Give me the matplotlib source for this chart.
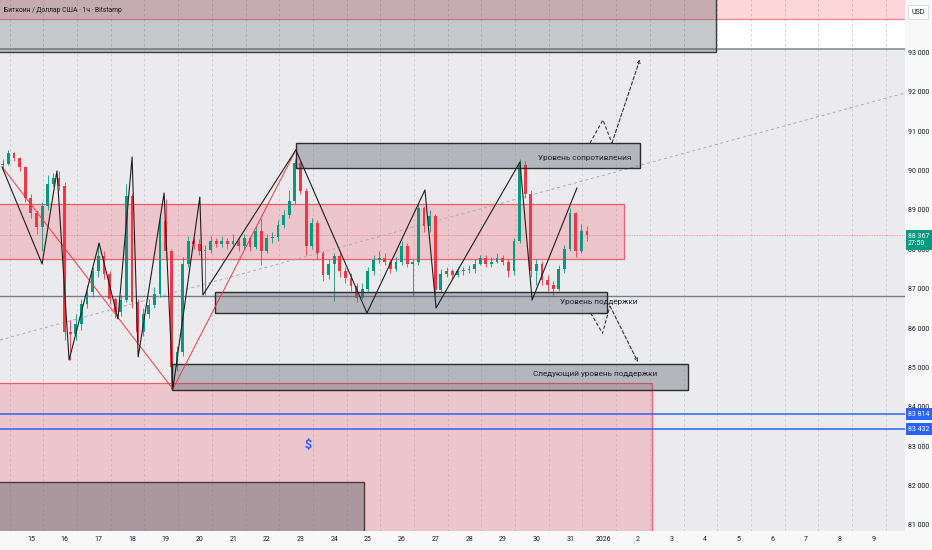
import matplotlib
matplotlib.use('Agg')
import matplotlib.pyplot as plt
import matplotlib.transforms as mtransforms
from matplotlib.patches import Rectangle

plt.rcParams['font.family'] = ['Roboto', 'DejaVu Sans']

# ---------------- data ----------------
title = 'Биткоин / Доллар США · 1ч · Bitstamp'
first_open = 90130
start_day = 14.08          # day coordinate of first 4h candle start (Dec)
bar_days = 1 / 6           # 4h candles

closes = [90180, 90440, 90310, 90080, 89310, 88920, 88560, 89100, 89670, 89820,
          89620, 85900, 85850, 86100, 86620, 86920, 87440, 87820, 87380, 86740,
          86410, 86720, 89360, 86670, 85900, 86360, 86590, 86870, 88720, 87950,
          85000, 85380, 87640, 88200, 88130, 87950, 87980, 88200, 88130, 88200,
          88130, 88200, 88080, 88280, 88050, 88460, 87950, 88280, 88310, 88620,
          88870, 89230, 90200, 89490, 88080, 88670, 87900, 87360, 87640, 87820,
          87440, 87280, 87080, 86770, 87000, 87440, 87740, 87790, 87690, 87510,
          87690, 88080, 87640, 87690, 89050, 88590, 88850, 86970, 87380, 87440,
          87360, 87440, 87470, 87490, 87640, 87770, 87620, 87690, 87770, 87690,
          87440, 88200, 90130, 89410, 87440, 87640, 87230, 87100, 87000, 87490,
          88000, 88920, 87950, 88460, 88367]
highs = [90300, 90520, 90480, 90350, 90120, 89400, 89000, 89200, 89900, 89950,
         90000, 89700, 86200, 86350, 86750, 87100, 87550, 88150, 87950, 87450,
         86800, 86850, 89650, 89400, 86750, 86500, 86750, 87050, 88900, 89280,
         88000, 85550, 87800, 88350, 88300, 88250, 88100, 88350, 88300, 88350,
         88300, 88400, 88300, 88400, 88350, 88600, 88800, 88400, 88450, 88750,
         89000, 89500, 90300, 90300, 89550, 88800, 88750, 87950, 87750, 87900,
         87900, 87550, 87400, 87150, 87150, 87550, 87850, 87950, 87900, 87750,
         87800, 88200, 88150, 87750, 89150, 89100, 89000, 88900, 87500, 87550,
         87500, 87550, 87550, 87600, 87750, 87850, 87850, 87800, 87900, 87850,
         87750, 88300, 90300, 90250, 89500, 87750, 87700, 87350, 87200, 87600,
         88100, 89050, 88950, 88650, 88600]
lows = [90050, 90150, 90250, 90000, 89200, 88800, 88400, 87950, 89000, 89600,
        89500, 85700, 85200, 85700, 85950, 86500, 86800, 87300, 87250, 86600,
        86250, 86300, 86650, 86500, 85650, 85800, 86250, 86500, 86800, 87800,
        84450, 84900, 85300, 87550, 88000, 87850, 86850, 87900, 88050, 88050,
        88000, 88100, 87950, 88000, 87950, 88000, 87600, 87900, 88150, 88200,
        88550, 88800, 89150, 89400, 87850, 88000, 87750, 87200, 87250, 86700,
        87300, 87150, 86950, 86650, 86750, 86950, 87350, 87650, 87600, 87400,
        87450, 87600, 87550, 86820, 87600, 88450, 88450, 86850, 86900, 87300,
        87250, 87300, 87350, 87400, 87400, 87600, 87550, 87550, 87650, 87600,
        87300, 87350, 88150, 89300, 87300, 87100, 87100, 86950, 86800, 86950,
        87400, 87950, 87800, 87900, 88200]

last_price = 88367
last_price_text = '88 367'
countdown_text = '27:50'

x_tick_days = list(range(15, 41))
x_tick_labels = [str(d) for d in range(15, 32)] + ['2026'] + [str(d) for d in range(2, 10)]
y_ticks = list(range(81000, 94000, 1000))

# zigzag drawn by the author (day, price)
zigzag_days = [14.14, 15.33, 15.77, 16.13, 17.02, 17.58, 18.00, 18.18, 18.95, 19.21,
               20.01, 20.10, 22.86, 24.97, 26.69, 27.02, 29.51, 29.87, 31.20]
zigzag_prices = [90092, 87628, 89990, 85190, 88161, 86231, 90346, 85266, 89431, 84453,
                 89330, 86840, 90524, 86383, 89508, 86510, 90219, 86713, 89558]
red_days = [14.17, 19.21, 22.86]
red_prices = [90066, 84453, 90524]
trend_days = [14.08, 40.935]
trend_prices = [85698, 91971]
up_proj_days = [31.59, 31.97, 32.24, 33.07]
up_proj_prices = [90701, 91286, 90701, 92827]
down_proj_days = [31.61, 31.96, 32.18, 33.01]
down_proj_prices = [86376, 85868, 86561, 85139]

# zones: (left day, right day, low price, high price)
range_zone = (13.0, 32.61, 87747, 89144)
bottom_zone = (13.0, 33.42, 79000, 84598)
top_pink_zone = (13.0, 42.0, 93851, 95500)
top_white_zone = (13.0, 42.0, 93076, 95500)
top_gray_box = (13.0, 35.33, 93000, 95500)
resist_box = (22.86, 33.07, 90059, 90694)
support_box = (20.47, 32.08, 86376, 86909)
next_support_box = (19.19, 34.49, 84427, 85080)
dark_box = (13.0, 24.89, 79000, 82091)
support_line = 86815
blue_levels = [83814, 83432]
blue_texts = ['83 814', '83 432']

resist_text = 'Уровень сопротивления'
support_text = 'Уровень поддержки'
next_support_text = 'Следующий уровень поддержки'

# ---------------- figure ----------------
W, H = 932, 550
fig = plt.figure(figsize=(W / 100, H / 100), dpi=100, facecolor='#f8f8f9')
ax = fig.add_axes([0, 19 / H, 905 / W, 531 / H])
ax.set_facecolor('#ebebed')
ax.set_xlim(14.08, 40.935)
ax.set_ylim(80846, 94333)
for s in ax.spines.values():
    s.set_visible(False)

def rect(zone, fc, alpha, ec=None, lw=0.9, z=1, ealpha=1.0):
    x0, x1, y0, y1 = zone
    ax.add_patch(Rectangle((x0, y0), x1 - x0, y1 - y0, facecolor=fc, alpha=alpha,
                           edgecolor='none', zorder=z))
    if ec is not None:
        ax.add_patch(Rectangle((x0, y0), x1 - x0, y1 - y0, facecolor='none',
                               edgecolor=ec, lw=lw, alpha=ealpha, zorder=z + 0.05))

# white area above top level line
rect(top_white_zone, '#ffffff', 1.0, z=0.3)
# grid
grid_days = [d + 0.365 for d in range(14, 41)]
ax.vlines(grid_days, 80000, 96000, colors='#cbcbd0', lw=0.6,
          linestyles=(0, (3, 3)), zorder=0.6)

# pink zones
rect(top_pink_zone, '#f23645', 0.2, ec='#f23645', lw=0.9, z=1, ealpha=0.6)
rect(range_zone, '#f23645', 0.2, ec='#f23645', lw=0.9, z=1, ealpha=0.75)
rect(bottom_zone, '#f23645', 0.2, ec='#f23645', lw=0.9, z=1, ealpha=0.75)

# horizontal lines
ax.axhline(top_white_zone[2], color='#8a8d95', lw=1.2, zorder=1.4)
ax.axhline(support_line, color='#787b86', lw=1.0, zorder=1.4)
ax.axhline(last_price, color='#f23645', lw=0.6, alpha=0.5, ls=(0, (1, 1)), zorder=1.4)
for lv in blue_levels:
    ax.axhline(lv, color='#2962ff', lw=1.1, zorder=2.5)
ax.plot(trend_days, trend_prices, color='#a9acb4', lw=0.7, ls=(0, (3, 3)), zorder=1.5)

# candles
opens = [first_open] + closes[:-1]
xs = [start_day + (i + 0.5) * bar_days for i in range(len(closes))]
up_c, dn_c = '#089981', '#f23645'
cols = [up_c if c >= o else dn_c for o, c in zip(opens, closes)]
ax.vlines(xs, lows, highs, colors=cols, lw=0.6, zorder=2)
bodies = [max(abs(c - o), 25) for o, c in zip(opens, closes)]
bottoms = [min(o, c) for o, c in zip(opens, closes)]
ax.bar(xs, bodies, bottom=bottoms, width=bar_days * 0.5, color=cols, lw=0, zorder=2.1)

# gray boxes
gfc = '#5d606b'
rect(top_gray_box, gfc, 0.35, ec='#3a3c42', lw=1.0, z=3)
rect(resist_box, gfc, 0.38, ec='#2a2c30', lw=1.0, z=3)
rect(support_box, gfc, 0.38, ec='#2a2c30', lw=1.0, z=3)
rect(next_support_box, gfc, 0.38, ec='#2a2c30', lw=1.0, z=3)
rect(dark_box, gfc, 0.45, ec='#4a3a3c', lw=1.0, z=3)

# zigzag / red lines
ax.plot(red_days, red_prices, color='#f23645', lw=0.7, zorder=3.5)
ax.plot(zigzag_days, zigzag_prices, color='#1e1e1e', lw=0.8, zorder=4)

# projections
for dd, pp in ((up_proj_days, up_proj_prices), (down_proj_days, down_proj_prices)):
    ax.plot(dd[:-1], pp[:-1], color='#333333', lw=0.8, ls=(0, (3, 2)), zorder=4)
    ax.annotate('', xy=(dd[-1], pp[-1]), xytext=(dd[-2], pp[-2]),
                arrowprops=dict(arrowstyle='->', color='#333333', lw=0.8, ls=(0, (3, 2)),
                                shrinkA=0, shrinkB=0, mutation_scale=5), zorder=4)

# box texts
tc = '#1e2028'
ax.text(32.83, 90328, resist_text, ha='right', va='center', fontsize=5.9, color=tc, zorder=5)
ax.text(30.70, 86670, support_text, ha='left', va='center', fontsize=5.9, color=tc, zorder=5)
ax.text(33.57, 84834, next_support_text, ha='right', va='center', fontsize=5.9, color=tc, zorder=5)
ax.text(23.22, 83005, '$', ha='center', va='center', fontsize=9, fontweight='bold',
        color='#2962ff', zorder=5)

# axes ticks
ax.yaxis.tick_right()
ax.set_yticks(y_ticks)
ax.set_yticklabels([f'{v:,}'.replace(',', ' ') for v in y_ticks])
ax.set_xticks(x_tick_days)
ax.set_xticklabels(x_tick_labels)
ax.tick_params(axis='y', length=0, pad=2.5, labelsize=5, labelcolor='#131722')
ax.tick_params(axis='x', length=0, pad=3.5, labelsize=5, labelcolor='#131722')

# price-scale labels
blend = mtransforms.blended_transform_factory(ax.transAxes, ax.transData)
for lv, t in zip(blue_levels, blue_texts):
    ax.text(1.0033, lv, t, transform=blend, ha='left', va='center', fontsize=5,
            color='white', clip_on=False, zorder=20,
            bbox=dict(boxstyle='square,pad=0.35', fc='#2962ff', ec='none'))
ax.text(1.0033, 88237, last_price_text + '\n' + countdown_text, transform=blend,
        ha='left', va='center', fontsize=5, color='white', linespacing=1.15,
        clip_on=False, zorder=20,
        bbox=dict(boxstyle='square,pad=0.35', fc='#089981', ec='none'))

fig.text(918 / W, 1 - 12 / H, 'USD', ha='center', va='center', fontsize=5, color='#131722',
         bbox=dict(boxstyle='square,pad=0.5', fc='white', ec='#d6d8de', lw=0.6))
fig.text(4 / W, 1 - 11 / H, title, ha='left', va='center', fontsize=4.9, color='#131722')

fig.savefig('out.png', dpi=100, facecolor=fig.get_facecolor())
